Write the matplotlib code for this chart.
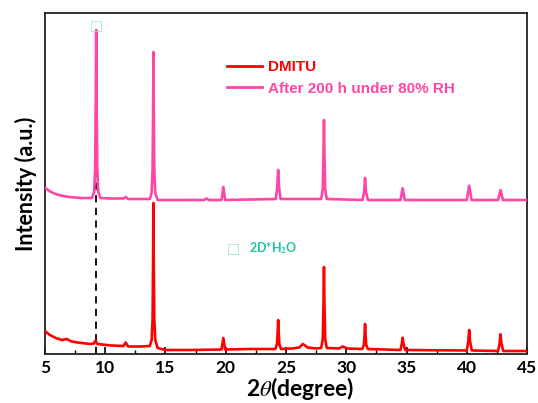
import matplotlib
matplotlib.use("Agg")
import matplotlib.pyplot as plt
from matplotlib.lines import Line2D

# XRD patterns (intensity in arbitrary units)
dmitu_2theta = [5.0, 5.4, 5.9, 6.4, 6.8, 7.2, 8.0, 8.8, 9.05, 9.2, 9.35, 10.5, 11.5, 11.7, 11.9,
                13.0, 13.7, 13.85, 13.93, 13.97, 14.0, 14.03, 14.07, 14.15, 14.35, 15.0, 17.0,
                19.65, 19.8, 19.95, 22.0, 24.12, 24.25, 24.31, 24.35, 24.39, 24.45, 24.58, 25.5,
                26.1, 26.4, 26.8, 27.5, 27.92, 28.05, 28.11, 28.15, 28.19, 28.25, 28.38, 29.4,
                29.7, 30.1, 31.33, 31.46, 31.52, 31.56, 31.6, 31.66, 31.8, 34.5, 34.62, 34.68,
                34.74, 34.88, 40.0, 40.13, 40.2, 40.27, 40.42, 42.6, 42.73, 42.8, 42.87, 43.02,
                45.0]
dmitu_counts = [23, 19, 16, 14, 15, 12.5, 11, 10, 10.5, 13.5, 10, 8.5, 8, 11.5, 7.5,
                7.5, 8, 14, 35, 90, 151, 90, 35, 14, 6, 4, 4,
                4.5, 16, 4.5, 5, 5, 10, 22, 34, 22, 10, 5, 5.5,
                6.5, 10, 6.5, 5.5, 6, 15, 50, 87, 50, 15, 6, 5.5,
                7.5, 5.5, 5, 9, 19, 30, 19, 9, 5, 4, 11, 16.3,
                11, 4, 3.5, 13, 24, 13, 3.5, 3, 11, 19.7, 11, 3,
                3]

aged_2theta = [5.0, 5.5, 6.0, 6.5, 7.0, 8.0, 8.9, 9.08, 9.16, 9.21, 9.25, 9.29, 9.34, 9.42,
               9.6, 10.5, 11.5, 11.7, 11.9, 13.7, 13.85, 13.93, 13.97, 14.0, 14.03, 14.07, 14.15,
               14.35, 15.0, 18.2, 18.4, 18.6, 19.65, 19.8, 19.95, 24.15, 24.27, 24.35, 24.43,
               24.55, 27.92, 28.05, 28.11, 28.15, 28.19, 28.25, 28.38, 31.35, 31.48, 31.56,
               31.64, 31.8, 34.5, 34.68, 34.86, 40.0, 40.2, 40.4, 42.6, 42.8, 43.0, 45.0]
aged_counts = [166, 162, 159.5, 158, 157, 156, 156, 162, 185, 250, 324, 250, 185, 162,
               156, 155.5, 155.5, 157, 155, 155, 161, 185, 240, 302, 240, 185, 161,
               154, 154, 154, 155.5, 154, 154, 167, 154, 155, 166, 184, 166,
               155, 155, 165, 200, 234, 200, 165, 155, 154, 162, 176,
               162, 154, 154, 165.7, 154, 154, 168.3, 154, 154, 164, 154, 154]

series_labels = ["DMITU", "After 200 h under 80% RH"]
series_colors = ["#FF0000", "#FF45A5"]
x_ticks = [5, 10, 15, 20, 25, 30, 35, 40, 45]
ref_line_2theta = 9.2

plt.rcParams["mathtext.fontset"] = "stix"

fig = plt.figure(figsize=(5.38, 4.03), dpi=100, facecolor="white")
ax = fig.add_axes([0.0836, 0.1216, 0.896, 0.8461])

ax.plot(dmitu_2theta, dmitu_counts, color=series_colors[0], lw=1.9, zorder=3)
ax.plot(aged_2theta, aged_counts, color=series_colors[1], lw=1.9, zorder=3)

# dashed guide through the 9.2 degree reflection
ax.plot([ref_line_2theta, ref_line_2theta], [0, 249], color="black", lw=1.3,
        ls=(0, (4, 3)), zorder=2)

ax.set_xlim(5, 45)
ax.set_ylim(0, 341)
ax.set_xticks(x_ticks)
ax.set_xticks([x + 2.5 for x in x_ticks[:-1]], minor=True)
ax.set_yticks([])
ax.tick_params(axis="x", which="major", direction="in", length=5, width=1.2, pad=4)
ax.tick_params(axis="x", which="minor", direction="in", length=3, width=1.0)
for lab in ax.get_xticklabels():
    lab.set_fontfamily("Lato")
    lab.set_fontweight("bold")
    lab.set_fontsize(12.5)
for side in ["left", "right", "top", "bottom"]:
    ax.spines[side].set_linewidth(1.3)
    ax.spines[side].set_color("#222222")

ax.set_xlabel(r"2$\theta$(degree)", fontfamily="Lato", fontweight="bold", fontsize=16.5)
ax.xaxis.set_label_coords(0.53, -0.062)
ax.set_ylabel("Intensity (a.u.)", fontfamily="Lato", fontweight="bold", fontsize=15.5, labelpad=6)

handles = [Line2D([0], [0], color=c, lw=2) for c in series_colors]
leg = ax.legend(handles, series_labels, loc="upper left", bbox_to_anchor=(0.378, 0.862),
                frameon=False, borderpad=0, borderaxespad=0, handlelength=2.3,
                handletextpad=0.35, labelspacing=0.5,
                prop={"family": "Liberation Sans", "weight": "bold", "size": 11})
for txt, c in zip(leg.get_texts(), series_colors):
    txt.set_color(c)

# phase markers
ax.text(9.25, 329, "\u25a1", color="#9EE6DA", fontsize=10, ha="center", va="center")
ax.text(20.6, 106, "\u25a1", color="#9EE6DA", fontsize=10, ha="center", va="center")
ax.text(21.9, 106, r"2D*H$_\mathbf{2}$O", color="#1EC7A2", fontsize=9, fontweight="bold",
        fontfamily="Lato", ha="left", va="center")

fig.savefig("out.png", dpi=100)
